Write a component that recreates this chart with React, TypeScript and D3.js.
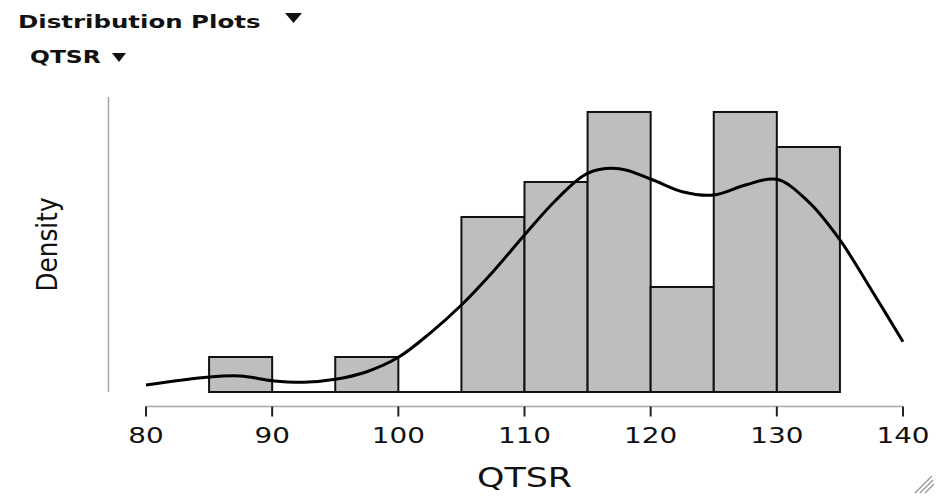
import React from "react";
import * as d3 from "d3";

// Histogram bins (QTSR, width 5) and their observation counts
const binStarts = [85, 90, 95, 100, 105, 110, 115, 120, 125, 130];
const binCounts = [1, 0, 1, 0, 5, 6, 8, 3, 8, 7];
const binWidth = 5;

// Kernel density estimate, sampled along QTSR
const kdeX = [80, 85, 87.5, 90, 92.5, 95, 97.5, 100, 102.5, 105, 107.5, 110, 112.5, 115, 117.5, 120, 122.5, 125, 127.5, 130, 132.5, 135, 137.5, 140];
const kdeY = [0.00103, 0.0022, 0.00234, 0.00166, 0.00142, 0.00186, 0.00297, 0.00508, 0.0086, 0.01275, 0.01763, 0.023, 0.02813, 0.03204, 0.03272, 0.03121, 0.02935, 0.02886, 0.03033, 0.03116, 0.02788, 0.02227, 0.01494, 0.00737];

const xTicks = [80, 90, 100, 110, 120, 130, 140];

const W = 936;
const H = 496;
const SX = 1.36; // horizontal text stretch

export default function App() {
  const total = d3.sum(binCounts);
  const x = d3.scaleLinear().domain([80, 140]).range([146, 903]);
  const y = d3.scaleLinear().domain([0, 0.04322]).range([392, 97]);

  const line = d3
    .line<number>()
    .x((_, i) => x(kdeX[i]))
    .y((d) => y(d))
    .curve(d3.curveCatmullRom.alpha(0.5));

  const axisY = 406.5;

  return (
    <svg
      width={W}
      height={H}
      viewBox={`0 0 ${W} ${H}`}
      style={{ position: "absolute", left: 0, top: 0, display: "block", background: "#fff" }}
    >
      {/* Header */}
      <g fontFamily="DejaVu Sans, Verdana, sans-serif" fontWeight="bold" fill="#111">
        <text transform={`translate(18,28) scale(${SX},1)`} fontSize={18}>
          Distribution Plots
        </text>
        <path d="M285,13 L302,13 L293.5,23 Z" fill="#111" />
        <text transform={`translate(30,63) scale(1.3,1)`} fontSize={18}>
          QTSR
        </text>
        <path d="M112,53 L126,53 L119,62 Z" fill="#111" />
      </g>

      {/* Y axis line */}
      <line x1={108.5} x2={108.5} y1={97} y2={392} stroke="#a8a8a8" strokeWidth={1.5} />
      <text
        transform={`translate(57,244.5) rotate(-90)`}
        textAnchor="middle"
        fontFamily="DejaVu Sans Condensed, DejaVu Sans, sans-serif"
        style={{ fontStretch: "condensed" }}
        fontSize={27.5}
        fill="#111"
      >
        Density
      </text>

      {/* Bars */}
      <g fill="#bebebe" stroke="#111" strokeWidth={2}>
        {binStarts.map((b, i) =>
          binCounts[i] > 0 ? (
            <rect
              key={b}
              x={x(b)}
              width={x(b + binWidth) - x(b)}
              y={y(binCounts[i] / (total * binWidth))}
              height={y(0) - y(binCounts[i] / (total * binWidth))}
            />
          ) : null
        )}
      </g>
      <line x1={x(85)} x2={x(135)} y1={y(0)} y2={y(0)} stroke="#111" strokeWidth={2} />

      {/* Density curve */}
      <path d={line(kdeY) || ""} fill="none" stroke="#000" strokeWidth={3} strokeLinejoin="round" />

      {/* X axis */}
      <line x1={x(80)} x2={x(140)} y1={axisY} y2={axisY} stroke="#a8a8a8" strokeWidth={1.5} />
      <g>
        {xTicks.map((t) => (
          <g key={t}>
            <line x1={x(t)} x2={x(t)} y1={axisY} y2={axisY + 10} stroke="#222" strokeWidth={2} />
            <text
              transform={`translate(${x(t)},443) scale(1.36,1)`}
              textAnchor="middle"
              fontFamily="DejaVu Sans, sans-serif"
              fontSize={20.5}
              fill="#111"
            >
              {t}
            </text>
          </g>
        ))}
      </g>
      <text
        transform={`translate(${(x(80) + x(140)) / 2},487) scale(1.34,1)`}
        textAnchor="middle"
        fontFamily="DejaVu Sans, sans-serif"
        fontSize={26}
        fill="#111"
      >
        QTSR
      </text>

      {/* Resize grip */}
      <g stroke="#9a9a9a" strokeWidth={1.5}>
        <line x1={915} y1={493} x2={932} y2={476} />
        <line x1={920} y1={493} x2={933} y2={480} />
        <line x1={925} y1={493} x2={934} y2={484} />
      </g>
    </svg>
  );
}
